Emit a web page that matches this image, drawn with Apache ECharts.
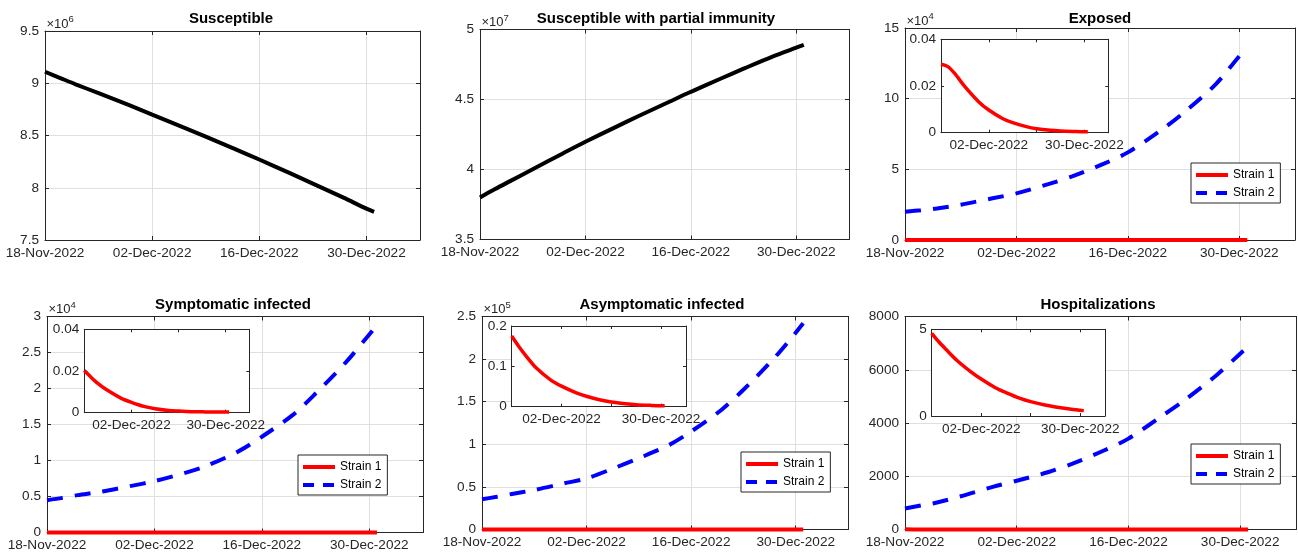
<!DOCTYPE html>
<html>
<head>
<meta charset="utf-8">
<script src="https://cdn.jsdelivr.net/npm/echarts@6/dist/echarts.min.js"></script>
<style>
html, body { margin: 0; padding: 0; background: #fff; }
#main { width: 1298px; height: 558px; }
</style>
</head>
<body>
<div id="main"></div>
<script>
// model output, 18-Nov-2022 .. 31-Dec-2022
var dates = ['2022-11-18', '2022-11-20', '2022-11-22', '2022-11-25', '2022-11-29', '2022-12-02', '2022-12-06',
    '2022-12-09', '2022-12-13', '2022-12-16', '2022-12-20', '2022-12-23', '2022-12-27', '2022-12-30', '2022-12-31'];
var xTickLabels = ['18-Nov-2022', '02-Dec-2022', '16-Dec-2022', '30-Dec-2022'];

var susceptible = [9.11e6, 9.05e6, 8.99e6, 8.905e6, 8.79e6, 8.70e6, 8.58e6, 8.49e6, 8.365e6, 8.27e6, 8.14e6, 8.04e6, 7.905e6, 7.80e6, 7.77e6];
var susceptiblePartial = [3.80e7, 3.86e7, 3.917e7, 4.002e7, 4.115e7, 4.198e7, 4.303e7, 4.38e7, 4.48e7, 4.555e7, 4.65e7, 4.72e7, 4.81e7, 4.87e7, 4.89e7];

var exposed1 = [0.0293, 0.0283, 0.0254, 0.0197, 0.0133, 0.0097, 0.0061, 0.0043, 0.0026, 0.0017, 0.0010, 0.0007, 0.0005, 0.0004, 0.0004];
var exposed2 = [2.0e4, 2.1e4, 2.23e4, 2.5e4, 2.95e4, 3.3e4, 3.95e4, 4.5e4, 5.4e4, 6.2e4, 7.7e4, 9.0e4, 11.0e4, 13.0e4, 13.6e4];

var symptomatic1 = [0.0202, 0.0170, 0.0141, 0.0106, 0.0069, 0.0050, 0.0029, 0.0019, 0.0011, 0.0008, 0.0005, 0.0004, 0.0003, 0.0003, 0.0003];
var symptomatic2 = [4490, 4810, 5190, 5650, 6480, 7130, 8290, 9350, 11300, 13300, 16300, 19300, 23700, 27500, 28800];

var asymptomatic1 = [0.175, 0.149, 0.126, 0.095, 0.066, 0.051, 0.035, 0.026, 0.0165, 0.0116, 0.0074, 0.005, 0.0033, 0.0025, 0.0025];
var asymptomatic2 = [35400, 38500, 41700, 46400, 54200, 60000, 73100, 83700, 99000, 115000, 140000, 164000, 200000, 231000, 242000];

var hosp1 = [4.77, 4.28, 3.85, 3.23, 2.56, 2.13, 1.63, 1.35, 1.02, 0.83, 0.63, 0.52, 0.40, 0.33, 0.31];
var hosp2 = [788, 900, 1012, 1250, 1600, 1830, 2160, 2475, 2975, 3412, 4225, 4850, 5787, 6600, 6875];

var FONT = "'Liberation Sans', Arial, Helvetica, sans-serif";
var AXIS = '#262626';
var GRIDLINE = '#dfdfdf';
var RED = '#ff0000', BLUE = '#0000ff';

var day0 = Date.parse(dates[0]);
function pairs(vals) {
    return vals.map(function (v, i) { return [(Date.parse(dates[i]) - day0) / 864e5, v]; });
}

// main axes: box = [left, top, width, height]
var panels = [
    { title: 'Susceptible', titleX: 231, box: [45, 31, 375, 209], y: [7.5e6, 9.5e6, 0.5e6], scale: 1e6, exp: '6',
      lines: [{ data: susceptible, color: '#000' }] },
    { title: 'Susceptible with partial immunity', titleX: 656, box: [480, 29.5, 369, 210], y: [3.5e7, 5e7, 0.5e7], scale: 1e7, exp: '7',
      lines: [{ data: susceptiblePartial, color: '#000' }] },
    { title: 'Exposed', titleX: 1100, box: [905, 28, 390, 212], y: [0, 15e4, 5e4], scale: 1e4, exp: '4',
      lines: [{ name: 'Strain 1', data: exposed1, color: RED }, { name: 'Strain 2', data: exposed2, color: BLUE, dash: true }],
      inset: { box: [941, 39.3, 167.3, 93.4], y: [0, 0.04, 0.02], data: exposed1 }, legend: [1191, 163] },
    { title: 'Symptomatic infected', titleX: 233, box: [47, 316.5, 376, 216], y: [0, 3e4, 0.5e4], scale: 1e4, exp: '4',
      lines: [{ name: 'Strain 1', data: symptomatic1, color: RED }, { name: 'Strain 2', data: symptomatic2, color: BLUE, dash: true }],
      inset: { box: [84.3, 329.3, 165, 83.4], y: [0, 0.04, 0.02], data: symptomatic1 }, legend: [298, 455] },
    { title: 'Asymptomatic infected', titleX: 662, box: [482, 316.5, 366, 213], y: [0, 2.5e5, 0.5e5], scale: 1e5, exp: '5',
      lines: [{ name: 'Strain 1', data: asymptomatic1, color: RED }, { name: 'Strain 2', data: asymptomatic2, color: BLUE, dash: true }],
      inset: { box: [511.7, 326, 174.3, 80.7], y: [0, 0.2, 0.1], data: asymptomatic1 }, legend: [741, 452] },
    { title: 'Hospitalizations', titleX: 1098, box: [905, 316.5, 391, 213], y: [0, 8000, 2000], scale: 1, exp: null,
      lines: [{ name: 'Strain 1', data: hosp1, color: RED }, { name: 'Strain 2', data: hosp2, color: BLUE, dash: true }],
      inset: { box: [931.7, 329.3, 173.3, 86.7], y: [0, 5, 5], data: hosp1 }, legend: [1191, 444] }
];

var grids = [], xAxes = [], yAxes = [], series = [], graphics = [], legends = [];

function addAxes(box, yr, scale, inset) {
    var gi = grids.length;
    var z = inset ? 4 : 0;
    grids.push({ left: box[0], top: box[1], width: box[2], height: box[3], containLabel: false,
        show: !!inset, backgroundColor: '#fff', borderWidth: 0, z: inset ? 3 : 0 });
    var line = { show: true, onZero: false, lineStyle: { color: AXIS, width: 1 } };
    var tick = { show: true, inside: true, length: inset ? 3 : 4, lineStyle: { color: AXIS, width: 1 } };
    var lbl = { fontFamily: FONT, fontSize: 13.6, color: AXIS };
    var xi = xAxes.length;
    xAxes.push({ type: 'value', gridIndex: gi, position: 'bottom', min: 0, max: 49, interval: 14, z: z,
        axisLine: line, axisTick: tick,
        axisLabel: Object.assign({ margin: 6, showMaxLabel: false, formatter: function (v) {
            if (v % 14 !== 0) return '';
            var k = v / 14;
            if (inset && (k === 0 || k === 2)) return '';
            return xTickLabels[k] || '';
        } }, lbl),
        splitLine: { show: !inset, lineStyle: { color: GRIDLINE, width: 1 } } });
    xAxes.push({ type: 'value', gridIndex: gi, position: 'top', min: 0, max: 49, interval: 14, z: z,
        axisLine: line, axisTick: tick, axisLabel: { show: false }, splitLine: { show: false } });
    var yi = yAxes.length;
    yAxes.push({ type: 'value', gridIndex: gi, position: 'left', min: yr[0], max: yr[1], interval: yr[2], z: z,
        axisLine: line, axisTick: tick,
        axisLabel: Object.assign({ margin: inset ? 5 : 6, formatter: function (v) { return String(+(v / scale).toFixed(4)); } }, lbl),
        splitLine: { show: !inset, lineStyle: { color: GRIDLINE, width: 1 } } });
    yAxes.push({ type: 'value', gridIndex: gi, position: 'right', min: yr[0], max: yr[1], interval: yr[2], z: z,
        axisLine: line, axisTick: tick, axisLabel: { show: false }, splitLine: { show: false } });
    return { x: xi, y: yi };
}

function addLine(ax, name, data, color, width, dash, z) {
    series.push({
        type: 'line', name: name, xAxisIndex: ax.x, yAxisIndex: ax.y,
        data: pairs(data), symbol: 'none', showSymbol: false,
        smooth: 0.3, clip: false, z: z,
        lineStyle: { color: color, width: width, type: dash ? [16, 12] : 'solid', cap: 'butt' },
        itemStyle: { color: color }
    });
}

panels.forEach(function (p, i) {
    var ax = addAxes(p.box, p.y, p.scale, false);
    p.lines.forEach(function (l) {
        addLine(ax, l.name || ('line' + i), l.data, l.color, 4, l.dash, 2);
    });
    graphics.push({ type: 'text', x: p.titleX, y: p.box[1] < 200 ? 19 : 305,
        style: { text: p.title, font: 'bold 15px ' + FONT, fill: '#000', align: 'center', verticalAlign: 'middle' } });
    if (p.exp) {
        graphics.push({ type: 'text', x: p.box[0] + 1.5, y: p.box[1] - 0.5,
            style: { text: '\u00d710', font: '13px ' + FONT, fill: AXIS, align: 'left', verticalAlign: 'bottom' } });
        graphics.push({ type: 'text', x: p.box[0] + 23.5, y: p.box[1] - 6.5,
            style: { text: p.exp, font: '9.5px ' + FONT, fill: AXIS, align: 'left', verticalAlign: 'bottom' } });
    }
    if (p.inset) {
        var ia = addAxes(p.inset.box, p.inset.y, 1, true);
        addLine(ia, 'Strain 1', p.inset.data, RED, 3.5, false, 5);
    }
    if (p.legend) {
        legends.push({
            orient: 'vertical', left: p.legend[0], top: p.legend[1],
            padding: [6, 6, 4, 3], itemGap: 6, itemWidth: 32, itemHeight: 12,
            backgroundColor: '#fff', borderColor: AXIS, borderWidth: 1, borderRadius: 0,
            selectedMode: false, z: 10,
            itemStyle: { opacity: 0 },
            lineStyle: { width: 4 },
            textStyle: { fontFamily: FONT, fontSize: 12, color: '#000' },
            data: [{ name: 'Strain 1' }, { name: 'Strain 2', lineStyle: { width: 4, type: [11, 9] } }]
        });
    }
});

var myChart = echarts.init(document.getElementById('main'), null, { renderer: 'canvas' });
var option = {
    backgroundColor: '#fff',
    animation: false,
    grid: grids,
    xAxis: xAxes,
    yAxis: yAxes,
    legend: legends,
    series: series,
    graphic: graphics
};
myChart.setOption(option);
</script>
</body>
</html>
